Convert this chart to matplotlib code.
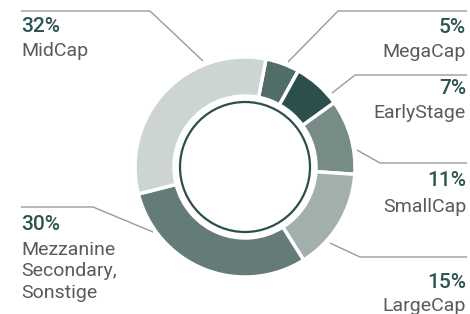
import matplotlib
matplotlib.use("Agg")
from matplotlib import pyplot as plt
from matplotlib.patches import Circle

labels = ["MegaCap", "EarlyStage", "SmallCap", "LargeCap",
          "Mezzanine\nSecondary,\nSonstige", "MidCap"]
shares = [5, 7, 11, 15, 30, 32]
colors = ["#516d68", "#2c4f4b", "#778b87", "#a3afac", "#647b77", "#cdd5d3"]

W, H = 470, 314
plt.rcParams['font.family'] = ['Roboto', 'DejaVu Sans']

fig = plt.figure(figsize=(W / 100, H / 100), dpi=100)
ax = fig.add_axes([0, 0, 1, 1])

def y(v):
    # pixel rows measured from the top
    return H - v

cx, cy = 245, y(167)
ax.pie(shares, colors=colors, startangle=79, counterclock=False,
       center=(cx, cy), radius=110, frame=True,
       wedgeprops=dict(width=39, edgecolor='white', linewidth=2.5))
ax.set_xlim(0, W)
ax.set_ylim(0, H)
ax.set_aspect('equal')
ax.axis('off')
ax.add_patch(Circle((cx, cy), 65, fill=False, edgecolor="#2c4f4b", linewidth=1.6))

# leader lines
leaders = {
    "MidCap": [(21, 11), (150, 11), (203, 61)],
    "MegaCap": [(467, 11), (338, 11), (288, 62)],
    "EarlyStage": [(467, 75), (355, 75), (332, 93)],
    "SmallCap": [(357, 150), (380, 163), (467, 163)],
    "LargeCap": [(330, 243), (360, 257), (467, 257)],
    "Mezzanine": [(21, 207), (93, 207), (153, 232)],
}
for pts in leaders.values():
    ax.plot([p[0] for p in pts], [y(p[1]) for p in pts],
            color="#9a9a9a", linewidth=1, solid_capstyle='butt')

# label anchors: x, percent baseline, name baseline, alignment
anchors = [
    (466, 33, 57, 'right'),
    (466, 94.5, 118.5, 'right'),
    (466, 186, 211.5, 'right'),
    (466, 287.5, 311, 'right'),
    (21, 229.5, 255, 'left'),
    (21, 32, 56, 'left'),
]
pct_color = "#2b5550"
name_color = "#5a5a5a"
for lab, val, (x, pb, nb, ha) in zip(labels, shares, anchors):
    ax.text(x, y(pb), f"{val}%", ha=ha, va='baseline', fontsize=15,
            color=pct_color, fontweight='medium')
    for i, line in enumerate(lab.split("\n")):
        ax.text(x, y(nb + i * 21.5), line, ha=ha, va='baseline', fontsize=14,
                color=name_color)

fig.savefig("out.png", dpi=100)
